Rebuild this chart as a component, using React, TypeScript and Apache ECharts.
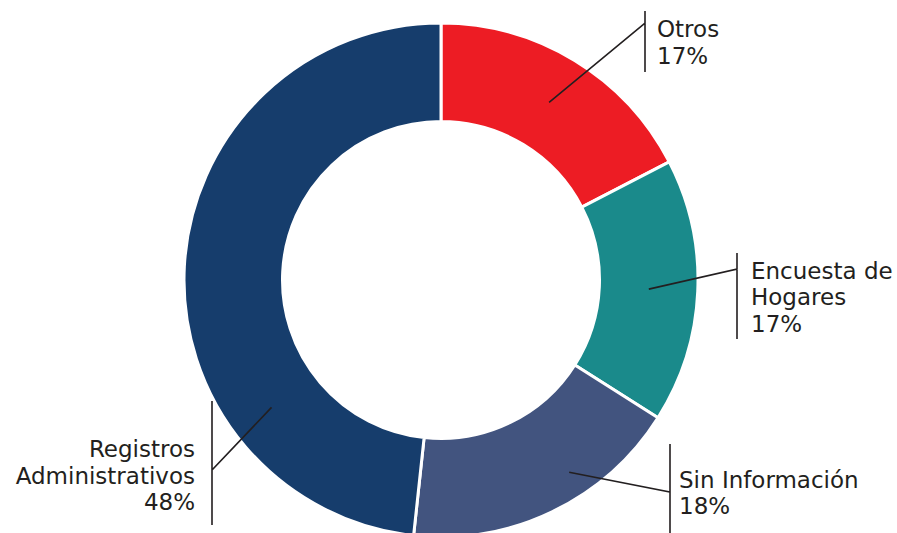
import React, { useEffect, useRef } from "react";
import * as echarts from "echarts";

// ---- data ----
const CATEGORIES = ["Otros", "Encuesta de Hogares", "Sin Información", "Registros Administrativos"];
const LABEL_TEXT = ["Otros", "Encuesta de\nHogares", "Sin Información", "Registros\nAdministrativos"];
const VALUES = [17.4, 16.6, 17.7, 48.3];

// ---- styles / layout ----
const COLORS = ["#ED1C24", "#1A8A8B", "#42547F", "#163D6C"];
const CENTER: [number, number] = [441, 280];
const RADIUS: [number, number] = [158.5, 257];
const TEXT_COLOR = "#231F20";
const LABEL_POS = [
  { frac: 0.5, r: 208, barX: 645, barTop: 11, barBottom: 72, cornerY: 23, textX: 657, textY: 42.5, align: "left" },
  { frac: 0.5, r: 208, barX: 737, barTop: 253, barBottom: 339, cornerY: 269, textX: 751, textY: 297, align: "left" },
  { frac: 0.375, r: 231, barX: 670, barTop: 444, barBottom: 533, cornerY: 492, textX: 679, textY: 493, align: "left" },
  { frac: 0.27, r: 212, barX: 212, barTop: 401, barBottom: 525, cornerY: 470, textX: 195, textY: 475.5, align: "right" },
];

function anchorPoint(i: number): [number, number] {
  const total = VALUES.reduce((a, b) => a + b, 0);
  let start = 0;
  for (let k = 0; k < i; k++) start += (VALUES[k] / total) * 360;
  const span = (VALUES[i] / total) * 360;
  const a = ((start + span * LABEL_POS[i].frac) * Math.PI) / 180;
  const r = LABEL_POS[i].r;
  return [CENTER[0] + r * Math.sin(a), CENTER[1] - r * Math.cos(a)];
}

export default function App() {
  const ref = useRef<HTMLDivElement>(null);
  useEffect(() => {
    if (!ref.current) return;
    const chart = echarts.init(ref.current, undefined, { renderer: "svg" });
    const data = CATEGORIES.map((name, i) => ({
      name,
      value: VALUES[i],
      itemStyle: { color: COLORS[i] },
    }));
    chart.setOption({
      animation: false,
      backgroundColor: "#ffffff",
      series: [
        {
          type: "pie",
          z: 2,
          center: CENTER,
          radius: RADIUS,
          startAngle: 90,
          clockwise: true,
          silent: true,
          emphasis: { disabled: true },
          itemStyle: { borderColor: "#ffffff", borderWidth: 3 },
          label: { show: false },
          labelLine: { show: false },
          data,
        },
        {
          // transparent overlay that carries the labels and leader lines above the ring
          type: "pie",
          z: 5,
          center: CENTER,
          radius: RADIUS,
          startAngle: 90,
          clockwise: true,
          silent: true,
          avoidLabelOverlap: false,
          emphasis: { disabled: true },
          itemStyle: { color: "rgba(0,0,0,0)", borderWidth: 0 },
          label: {
            show: true,
            position: "outside",
            color: TEXT_COLOR,
            fontFamily: "DejaVu Sans",
            fontSize: 23,
            lineHeight: 26.5,
            formatter: (p: any) => LABEL_TEXT[p.dataIndex] + "\n" + Math.round(p.percent) + "%",
          },
          labelLine: {
            show: true,
            showAbove: true,
            lineStyle: { color: TEXT_COLOR, width: 1.6 },
          },
          labelLayout: (params: any) => {
            const i = params.dataIndex;
            const L = LABEL_POS[i];
            const s = anchorPoint(i);
            return {
              x: L.textX,
              y: L.textY,
              align: L.align,
              verticalAlign: "middle",
              hideOverlap: false,
              labelLinePoints: [s, [L.barX, L.cornerY], [L.barX, L.barTop], [L.barX, L.barBottom]],
            };
          },
          data: CATEGORIES.map((name, i) => ({
            name,
            value: VALUES[i],
            itemStyle: { color: "rgba(0,0,0,0)" },
          })),
        },
      ],
    });
    return () => chart.dispose();
  }, []);
  return (
    <div
      ref={ref}
      style={{ position: "fixed", left: 0, top: 0, width: 897, height: 533 }}
    />
  );
}
